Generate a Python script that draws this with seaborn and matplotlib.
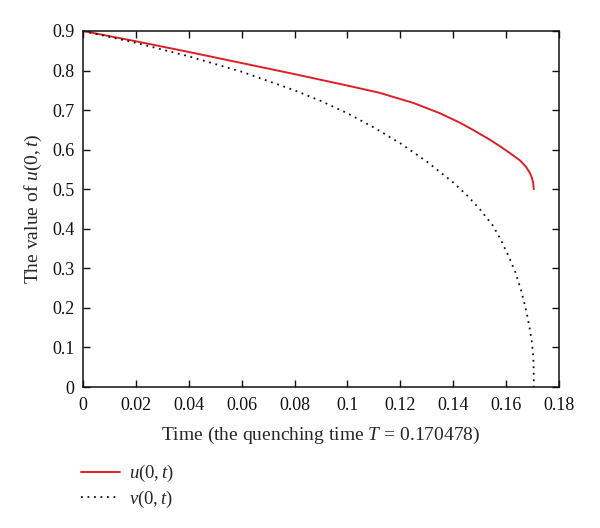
import matplotlib
matplotlib.use("Agg")
import matplotlib.pyplot as plt
import seaborn as sns
import pandas as pd

# Data
t_u = [0.0, 0.02, 0.04, 0.06, 0.08, 0.1, 0.112, 0.125, 0.135, 0.1426, 0.148,
       0.1539, 0.1577, 0.1615, 0.1653, 0.1675, 0.169, 0.1698, 0.1702, 0.170478]
u_vals = [0.9, 0.874, 0.847, 0.819, 0.791, 0.762, 0.744, 0.718, 0.692, 0.668, 0.648,
          0.625, 0.6085, 0.591, 0.5725, 0.557, 0.541, 0.528, 0.517, 0.50]

t_v = [0.0, 0.02, 0.04, 0.06, 0.08, 0.09, 0.1, 0.11, 0.12, 0.13, 0.14, 0.145,
       0.15, 0.155, 0.158, 0.161, 0.1635, 0.1655, 0.167, 0.168, 0.169, 0.1697,
       0.1701, 0.1703, 0.1704, 0.17046, 0.170478]
v_vals = [0.9, 0.870, 0.836, 0.797, 0.750, 0.723, 0.692, 0.656, 0.616, 0.570, 0.517, 0.486,
          0.450, 0.408, 0.372, 0.330, 0.290, 0.248, 0.210, 0.180, 0.145, 0.115,
          0.090, 0.070, 0.050, 0.025, 0.0]

x_ticks = [0, 0.02, 0.04, 0.06, 0.08, 0.1, 0.12, 0.14, 0.16, 0.18]
x_tick_labels = ["0", "0.02", "0.04", "0.06", "0.08", "0.1", "0.12", "0.14", "0.16", "0.18"]
y_ticks = [0, 0.1, 0.2, 0.3, 0.4, 0.5, 0.6, 0.7, 0.8, 0.9]
y_tick_labels = ["0", "0.1", "0.2", "0.3", "0.4", "0.5", "0.6", "0.7", "0.8", "0.9"]

sns.set_style("ticks")
plt.rcParams["font.family"] = ["Liberation Serif", "DejaVu Serif"]
plt.rcParams["mathtext.fontset"] = "custom"
plt.rcParams["mathtext.rm"] = "Liberation Serif"
plt.rcParams["mathtext.it"] = "Liberation Serif:italic"
plt.rcParams["mathtext.bf"] = "Liberation Serif:bold"

fig = plt.figure(figsize=(6.0, 5.28), dpi=100)
ax = fig.add_axes([83 / 600, 1 - 387 / 528, (559 - 83) / 600, (387 - 31) / 528])

df_u = pd.DataFrame({"t": t_u, "val": u_vals})
df_v = pd.DataFrame({"t": t_v, "val": v_vals})

sns.lineplot(data=df_u, x="t", y="val", ax=ax, color="#dd1f26", linewidth=1.4,
             label=r"$u(0,t)$", sort=False, estimator=None)
sns.lineplot(data=df_v, x="t", y="val", ax=ax, color="#111111", linewidth=1.3,
             linestyle=(0, (1, 2.6)), label=r"$v(0,t)$", sort=False, estimator=None)

ax.set_xlim(0, 0.18)
ax.set_ylim(0, 0.9)
ax.set_xticks(x_ticks)
ax.set_xticklabels(x_tick_labels)
ax.set_yticks(y_ticks)
ax.set_yticklabels(y_tick_labels)
ax.tick_params(axis="both", which="major", direction="in", length=5, width=1.0,
               top=True, right=True, labelsize=13, colors="#111111")
ax.tick_params(axis="x", pad=7)
ax.tick_params(axis="y", pad=6)
for sp in ax.spines.values():
    sp.set_visible(True)
    sp.set_linewidth(1.1)
    sp.set_color("#111111")

ax.set_xlabel(r"Time (the quenching time $T$ = 0.170478)", fontsize=14, labelpad=8)
ax.set_ylabel(r"The value of $u(0,t)$", fontsize=14, labelpad=6)

handles, labels = ax.get_legend_handles_labels()
ax.get_legend().remove()
fig.legend(handles, labels, loc="upper left", bbox_to_anchor=(81 / 600, 1 - 463 / 528),
           frameon=False, fontsize=13.5, handlelength=2.1, handletextpad=0.45,
           labelspacing=0.25, borderpad=0, borderaxespad=0)

fig.savefig("out.png", dpi=100)
